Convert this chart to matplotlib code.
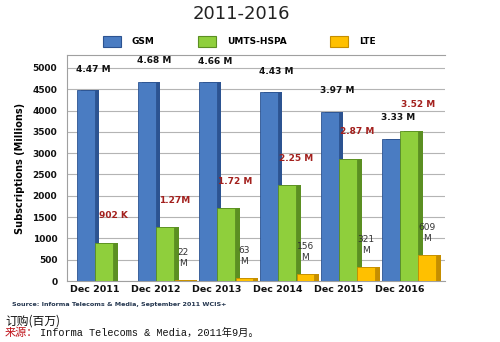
import matplotlib
matplotlib.use("Agg")
import matplotlib.pyplot as plt
from matplotlib.patches import Patch
import numpy as np

# Subscriptions (millions) by technology, Dec 2011 - Dec 2016
years = ["Dec 2011", "Dec 2012", "Dec 2013", "Dec 2014", "Dec 2015", "Dec 2016"]
gsm = [4470, 4680, 4660, 4430, 3970, 3330]
umts = [902, 1270, 1720, 2250, 2870, 3520]
lte = [1, 22, 63, 156, 321, 609]
gsm_labels = ["4.47 M", "4.68 M", "4.66 M", "4.43 M", "3.97 M", "3.33 M"]
umts_labels = ["902 K", "1.27M", "1.72 M", "2.25 M", "2.87 M", "3.52 M"]
lte_labels = ["", "22\nM", "63\nM", "156\nM", "321\nM", "609\nM"]
yticks = list(range(0, 5001, 500))

series = [
    ("GSM", gsm, "#4a7cc2", "#2c5391"),
    ("UMTS-HSPA", umts, "#8fcf3c", "#5b8f22"),
    ("LTE", lte, "#ffc000", "#c58e00"),
]

fig = plt.figure(figsize=(5.0, 3.42), dpi=100)
ax = fig.add_axes([0.134, 0.178, 0.756, 0.661])

x = np.arange(len(years))
step, width, side = 0.3, 0.34, 0.07
for k, (name, vals, face, dark) in enumerate(series):
    pos = x + (k - 1) * step
    # darker side face behind each bar for a raised look
    ax.bar(pos + side, vals, width=width * 0.9, color=dark, zorder=2)
    ax.bar(pos, vals, width=width * 0.85, color=face, edgecolor=dark,
           linewidth=0.6, zorder=3)

for i in range(len(years)):
    ax.annotate(gsm_labels[i], (x[i] - step + 0.12, gsm[i]), xytext=(0, 12),
                textcoords="offset points", ha="center", va="bottom",
                fontsize=6.5, fontweight="bold", color="#111111", zorder=5)
    ax.annotate(umts_labels[i], (x[i] + 0.15, umts[i]), xytext=(0, 16),
                textcoords="offset points", ha="center", va="bottom",
                fontsize=6.5, fontweight="bold", color="#a3201d", zorder=5)
    if lte_labels[i]:
        ax.annotate(lte_labels[i], (x[i] + step, lte[i]), xytext=(0, 9),
                    textcoords="offset points", ha="center", va="bottom",
                    fontsize=6.5, color="#333333", linespacing=1.3, zorder=5)

ax.set_xlim(-0.607, 5.59)
ax.set_ylim(0, 5300)
ax.set_yticks(yticks)
ax.set_yticklabels([str(v) for v in yticks], fontsize=6.5, fontweight="bold")
ax.set_xticks(x - 0.15)
ax.set_xticklabels(years, fontsize=6.8, fontweight="bold")
ax.tick_params(axis="x", length=0, pad=3, colors="#111111")
ax.tick_params(axis="y", length=0, pad=7, colors="#111111")
ax.yaxis.grid(True, color="#b4b4b4", linewidth=0.8, zorder=0)
ax.set_axisbelow(True)
for s in ["left", "bottom", "top"]:
    ax.spines[s].set_color("#a0a0a0")
    ax.spines[s].set_linewidth(0.8)
ax.spines["right"].set_visible(False)
ax.set_ylabel("Subscriptions (Millions)", fontsize=7, fontweight="bold",
              labelpad=5)

fig.text(0.482, 0.96, "2011-2016", ha="center", va="center", fontsize=13,
         color="#222222")

handles = [Patch(facecolor=f, edgecolor=d, linewidth=0.8) for _, _, f, d in series]
fig.legend(handles, [s[0] for s in series], loc="center", ncol=3,
           bbox_to_anchor=(0.478, 0.88), frameon=False, handlelength=2.0,
           handleheight=1.5, columnspacing=4.8, handletextpad=1.2,
           prop={"size": 6.5, "weight": "bold"})

fig.text(0.024, 0.111, "Source: Informa Telecoms & Media, September 2011 WCIS+",
         fontsize=4.6, fontweight="bold", color="#24364f", va="center")
fig.text(0.01, 0.061, "订购(百万)", fontsize=8.5, color="#111111", va="center",
         family=["Noto Sans CJK SC", "DejaVu Sans"])
src_head = fig.text(0.01, 0.026, "来源：", fontsize=8, color="#c0141c",
                    va="center", family=["Noto Sans CJK SC", "DejaVu Sans"])
ax.annotate("Informa Telecoms & Media，2011年9月。", xy=(1, 0.5),
            xycoords=src_head, xytext=(1, 0), textcoords="offset points",
            ha="left", va="center", fontsize=7.4, color="#111111",
            family=["Liberation Mono", "Noto Sans CJK SC"],
            annotation_clip=False)

fig.savefig("out.png", dpi=100, facecolor="white")
